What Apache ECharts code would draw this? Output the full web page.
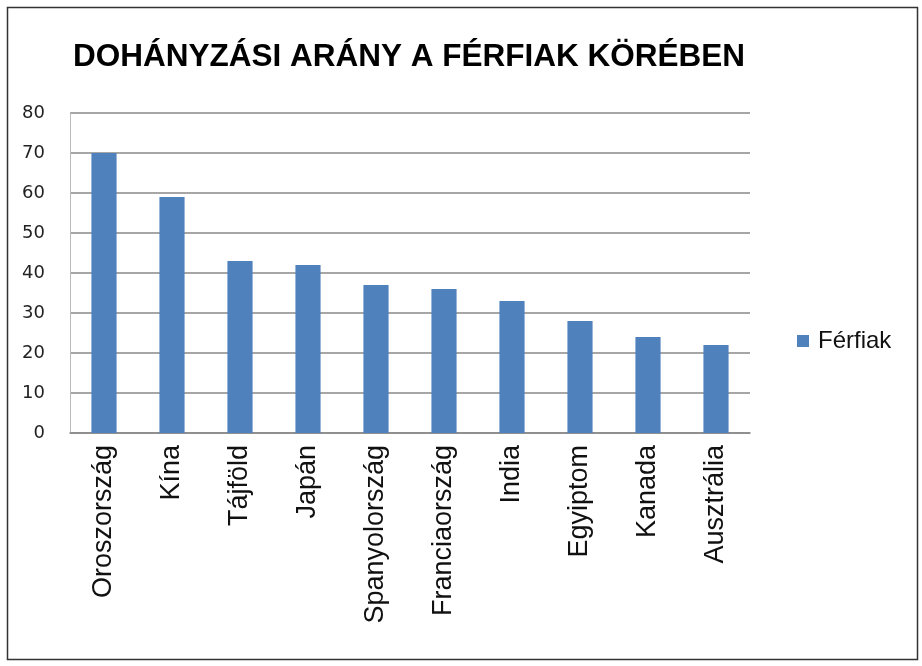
<!DOCTYPE html>
<html>
<head>
<meta charset="utf-8">
<title>Dohányzási arány</title>
<script src="https://cdn.jsdelivr.net/npm/echarts@6/dist/echarts.min.js"></script>
<style>
  html, body { margin: 0; padding: 0; background: #fff; }
  #chart { width: 922px; height: 666px; }
</style>
</head>
<body>
<div id="chart"></div>
<script>
// adatok
const countries = ["Oroszország", "Kína", "Tájföld", "Japán", "Spanyolország",
  "Franciaország", "India", "Egyiptom", "Kanada", "Ausztrália"];
const ferfiak = [70, 59, 43, 42, 37, 36, 33, 28, 24, 22];
const seriesName = "Férfiak";
const titleText = "DOHÁNYZÁSI ARÁNY A FÉRFIAK KÖRÉBEN";

const chart = echarts.init(document.getElementById("chart"));
const option = {
  animation: false,
  backgroundColor: "#fff",
  title: {
    text: titleText,
    left: 68,
    top: 36,
    textStyle: {
      fontFamily: "Liberation Sans, Arial",
      fontWeight: "bold",
      fontSize: 31.5,
      color: "#000"
    }
  },
  legend: {
    data: [seriesName],
    left: 792,
    top: 324,
    itemWidth: 12,
    itemHeight: 12,
    icon: "rect",
    textStyle: { fontFamily: "Liberation Sans, Arial", fontSize: 24, color: "#111", padding: [0, 0, 0, 4] }
  },
  grid: { left: 70, right: 172, top: 113, bottom: 233 },
  xAxis: {
    type: "category",
    data: countries,
    axisLine: { lineStyle: { color: "#888", width: 1.5 } },
    axisTick: { show: false },
    axisLabel: {
      rotate: 90,
      interval: 0,
      margin: 12,
      fontFamily: "Liberation Sans, Arial",
      fontSize: 27,
      color: "#111"
    }
  },
  yAxis: {
    type: "value",
    min: 0,
    max: 80,
    interval: 10,
    axisLine: { show: true, lineStyle: { color: "#bbb" } },
    axisTick: { show: false },
    splitLine: { lineStyle: { color: "#888", width: 1.5 } },
    axisLabel: {
      margin: 25,
      align: "right",
      fontFamily: "DejaVu Sans, Verdana",
      fontSize: 18,
      color: "#222"
    }
  },
  series: [{
    name: seriesName,
    type: "bar",
    data: ferfiak,
    barWidth: "37%",
    itemStyle: { color: "#4F81BD" }
  }],
  graphic: [{
    type: "rect",
    shape: { x: 7.5, y: 7.5, width: 910, height: 652 },
    style: { fill: "none", stroke: "#333", lineWidth: 1.5 },
    silent: true
  }]
};
chart.setOption(option);
</script>
</body>
</html>
